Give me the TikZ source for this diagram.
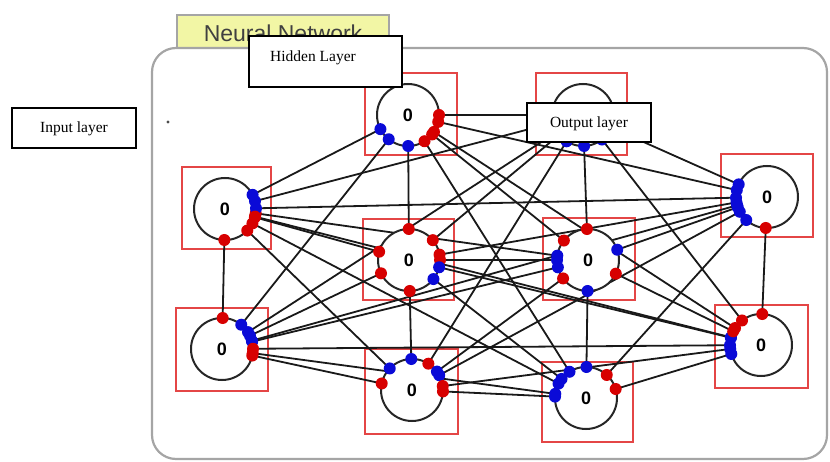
\documentclass[tikz,border=0pt]{standalone}
\usepackage{fontspec}
\setmainfont{Liberation Serif}
\newfontfamily\sansf{Liberation Sans}
\usetikzlibrary{calc}
\pgfdeclarelayer{bgzero}
\pgfdeclarelayer{bgone}
\pgfsetlayers{bgzero,bgone,main}
\definecolor{sqred}{RGB}{228,70,70}
\definecolor{tabyellow}{RGB}{242,246,165}
\definecolor{framegray}{RGB}{165,165,165}
\definecolor{pr}{RGB}{215,0,0}
\definecolor{pb}{RGB}{10,10,215}
\tikzset{
 neuron/.style={circle, draw=black!85, line width=2pt, fill=white, minimum size=62pt, inner sep=0pt, font=\sansf\bfseries\fontsize{18}{18}\selectfont},
 sqbox/.style={draw=sqred, line width=1.5pt},
 wire/.style={draw=black!90, line width=1.8pt},
 labelbox/.style={draw=black, line width=1.5pt, fill=white, inner sep=0pt},
 labeltext/.style={font=\fontsize{15.5}{18}\selectfont, inner sep=0pt},
}
\begin{document}
\begin{tikzpicture}[x=1pt,y=-1pt]
\useasboundingbox (0,0) rectangle (830,462);
% neurons
\node[neuron] (I1) at (225,209) {0};
\node[neuron] (I2) at (222,349) {0};
\node[neuron] (H1) at (408,115) {0};
\node[neuron] (H2) at (409,260) {0};
\node[neuron] (H3) at (412,390) {0};
\node[neuron] (O1) at (583,115) {};
\node[neuron] (O2) at (588,260) {0};
\node[neuron] (O3) at (586,398) {0};
\node[neuron] (R1) at (767,197) {0};
\node[neuron] (R2) at (761,345) {0};
\begin{pgfonlayer}{bgzero}
 \node[draw=framegray, fill=tabyellow, line width=1.2pt, minimum width=212pt, minimum height=36pt, inner sep=0pt] (tab) at (283,33) {};
 \node[font=\sansf\fontsize{23}{23}\selectfont, text=black!75, inner sep=0pt] (tabtext) at (283,33) {Neural Network};
 \draw[draw=framegray, line width=2.2pt, fill=white, rounded corners=24pt] (152,48) rectangle (827,459);
 \fill[black!70] (168,122) circle (1.6pt);
 \draw[sqbox] (182,167) rectangle (271,249);
 \draw[sqbox] (176,308) rectangle (268,391);
 \draw[sqbox] (365,73) rectangle (457,155);
 \draw[sqbox] (363,219) rectangle (454,300);
 \draw[sqbox] (365,349) rectangle (458,434);
 \draw[sqbox] (536,73) rectangle (627,155);
 \draw[sqbox] (543,218) rectangle (635,300);
 \draw[sqbox] (542,362) rectangle (633,442);
 \draw[sqbox] (721,154) rectangle (813,237);
 \draw[sqbox] (715,305) rectangle (808,388);
\end{pgfonlayer}
\def\edgelist{I1/I2/pr/pr, I1/H1/pb/pb, I1/H2/pr/pr, I1/H3/pr/pb, I1/O1/pb/pb,
 I1/O2/pr/pb, I1/O3/pr/pb, I1/R1/pb/pb, I1/R2/pr/pb,
 I2/H1/pb/pb, I2/H2/pb/pr, I2/H3/pr/pr, I2/O1/pb/pb, I2/O2/pb/pb,
 I2/O3/pr/pb, I2/R1/pb/pb, I2/R2/pr/pb,
 H1/H2/pb/pr, H1/O1/pr/pb, H1/O2/pr/pr, H1/O3/pr/pb, H1/R1/pr/pb, H1/R2/pr/pr,
 H2/H3/pr/pb, H2/O1/pr/pb, H2/O2/pr/pb, H2/O3/pb/pb, H2/R1/pr/pb, H2/R2/pb/pb,
 H3/O1/pr/pb, H3/O2/pb/pr, H3/O3/pr/pb, H3/R1/pb/pb, H3/R2/pr/pb,
 O1/O2/pb/pr, O1/R1/pb/pb, O1/R2/pb/pr,
 O2/O3/pb/pb, O2/R1/pb/pb, O2/R2/pr/pr,
 O3/R1/pr/pb, O3/R2/pr/pb, R1/R2/pr/pr}
\begin{pgfonlayer}{bgone}
 \foreach \a/\b/\ca/\cb in \edgelist {
  \draw[wire] (\a.center) -- (\b.center);
 }
\end{pgfonlayer}
\foreach \a/\b/\ca/\cb in \edgelist {
  \fill[\ca] ($(\a.center)!31pt!(\b.center)$) circle (6pt);
  \fill[\cb] ($(\b.center)!31pt!(\a.center)$) circle (6pt);
}
% labels
\node[labelbox, minimum width=124pt, minimum height=40pt] (inbox) at (74,128) {};
\node[labeltext] (intext) at (74,129) {Input layer};
\node[labelbox, minimum width=153pt, minimum height=51pt] (hidbox) at (325.5,61.5) {};
\node[labeltext, anchor=base west] (hidtext) at (270,62) {Hidden Layer};
\node[labelbox, minimum width=124pt, minimum height=39pt] (outbox) at (589,122.5) {};
\node[labeltext] (outtext) at (589,124) {Output layer};
\end{tikzpicture}
\end{document}
